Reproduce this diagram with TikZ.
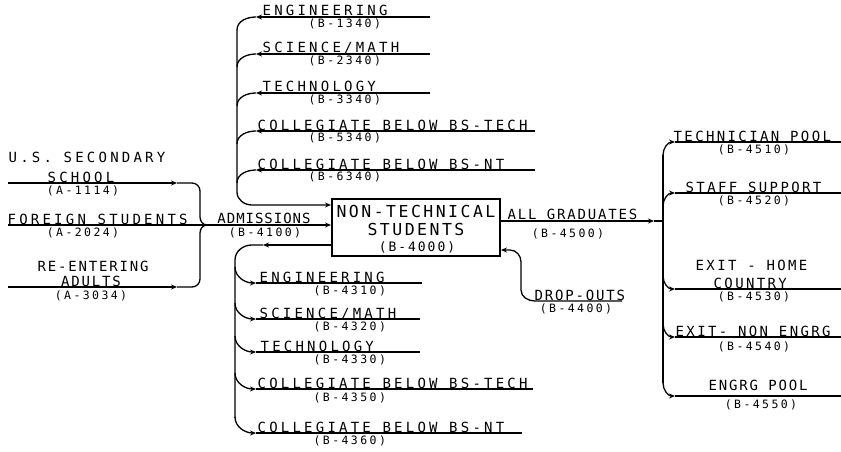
\documentclass[tikz,border=0pt]{standalone}
\usepackage{fontspec}
\newfontfamily\cadA[LetterSpace=23]{DejaVu Sans Mono}
\newfontfamily\cadD[LetterSpace=17]{DejaVu Sans Mono}
\newfontfamily\cadB[LetterSpace=13]{DejaVu Sans Mono}
\newfontfamily\cadC[LetterSpace=7]{DejaVu Sans Mono}
\newfontfamily\cadsub[LetterSpace=21]{DejaVu Sans Mono}
\newfontfamily\cadbig[LetterSpace=15]{DejaVu Sans Mono}
\usetikzlibrary{arrows.meta}
\begin{document}
\begin{tikzpicture}[x=1pt,y=-1pt,line width=1.3pt,
  ah/.tip={Stealth[length=6pt,width=5pt]},
  lbl/.style={font=\cadA\fontsize{14}{15}\selectfont,inner sep=0pt},
  lblD/.style={font=\cadD\fontsize{14}{15}\selectfont,inner sep=0pt},
  lblB/.style={font=\cadB\fontsize{14}{15}\selectfont,inner sep=0pt},
  lblC/.style={font=\cadC\fontsize{14}{15}\selectfont,inner sep=0pt},
  sub/.style={font=\cadsub\fontsize{11.5}{12}\selectfont,inner sep=0pt},
  big/.style={font=\cadbig\fontsize{16.5}{17}\selectfont,inner sep=0pt},
  bigsub/.style={font=\cadbig\fontsize{13}{14}\selectfont,inner sep=0pt}]
\useasboundingbox (0,0) rectangle (841,452);

% central box
\node[draw,minimum width=168pt,minimum height=57pt,inner sep=0pt] (box) at (416,227.5) {};
\node[big] (b1) at (416,211) {NON-TECHNICAL};
\node[big] (b2) at (416,229) {STUDENTS};
\node[bigsub] (b3) at (417,247) {(B-4000)};

% ---------- left inputs ----------
\node[lbl] (l1a) at (87,157) {U.S. SECONDARY};
\node[lbl,anchor=base] (l1b) at (81,182) {SCHOOL};
\node[sub] (l1s) at (83,191) {(A-1114)};
\node[lbl,anchor=base west] (l2) at (7,224) {FOREIGN STUDENTS};
\node[sub] (l2s) at (83,233) {(A-2024)};
\node[lblB] (l3a) at (93,266) {RE-ENTERING};
\node[lblB,anchor=base] (l3b) at (91,286) {ADULTS};
\node[sub] (l3s) at (91,296) {(A-3034)};
\node[lblC,anchor=base] (adm) at (264,223.5) {ADMISSIONS};
\node[sub] (adms) at (265,233) {(B-4100)};

\coordinate (s1) at (8,183); \coordinate (m1) at (177,183);
\coordinate (s2) at (8,225); \coordinate (boxin2) at (331,225);
\coordinate (s3) at (8,287); \coordinate (m3) at (177,287);
\coordinate (jn) at (207,225);
\draw[-ah] (s1) -- (m1);
\draw (m1) -- (192,183) to[out=0,in=90] (200,191) -- (200,217) to[out=270,in=180] (jn);
\draw[-ah] (s3) -- (m3);
\draw (m3) -- (192,287) to[out=0,in=270] (200,279) -- (200,233) to[out=90,in=180] (jn);
\draw[-ah] (s2) -- (boxin2);

% ---------- top group (returns) ----------
\node[lbl,anchor=base west] (t1) at (262,16) {ENGINEERING};
\node[sub,anchor=west] (t1s) at (308,24) {(B-1340)};
\node[lbl,anchor=base west] (t2) at (262,53) {SCIENCE/MATH};
\node[sub,anchor=west] (t2s) at (308,61) {(B-2340)};
\node[lbl,anchor=base west] (t3) at (262,92) {TECHNOLOGY};
\node[sub,anchor=west] (t3s) at (308,100) {(B-3340)};
\node[lbl,anchor=base west] (t4) at (257,130) {COLLEGIATE BELOW BS-TECH};
\node[sub,anchor=west] (t4s) at (308,138) {(B-5340)};
\node[lbl,anchor=base west] (t5) at (257,169) {COLLEGIATE BELOW BS-NT};
\node[sub,anchor=west] (t5s) at (308,177) {(B-6340)};

\coordinate (ta1) at (430,17);  \coordinate (tb1) at (256,17);
\coordinate (ta2) at (430,54);  \coordinate (tb2) at (256,54);
\coordinate (ta3) at (430,93);  \coordinate (tb3) at (256,93);
\coordinate (ta4) at (535,131); \coordinate (tb4) at (256,131);
\coordinate (ta5) at (535,170); \coordinate (tb5) at (256,170);
\coordinate (boxin1) at (331,205);
\foreach \k in {1,...,5}{\draw[-ah] (ta\k) -- (tb\k);}
\draw (tb1) to[out=180,in=90] (237,30);
\draw (tb2) to[out=180,in=90] (237,67);
\draw (tb3) to[out=180,in=90] (237,106);
\draw (tb4) to[out=180,in=90] (237,144);
\draw (tb5) to[out=180,in=90] (237,183);
\draw[-ah] (237,30) -- (237,192) to[out=270,in=180] (252,205) -- (boxin1);

% ---------- bottom group (transfers out) ----------
\node[lbl,anchor=base west] (u1) at (259,282) {ENGINEERING};
\node[sub,anchor=west] (u1s) at (313,291) {(B-4310)};
\node[lbl,anchor=base west] (u2) at (259,318) {SCIENCE/MATH};
\node[sub,anchor=west] (u2s) at (313,327) {(B-4320)};
\node[lbl,anchor=base west] (u3) at (260,351) {TECHNOLOGY};
\node[sub,anchor=west] (u3s) at (313,360) {(B-4330)};
\node[lbl,anchor=base west] (u4) at (257,388) {COLLEGIATE BELOW BS-TECH};
\node[sub,anchor=west] (u4s) at (313,398) {(B-4350)};
\node[lbl,anchor=base west] (u5) at (257,432) {COLLEGIATE BELOW BS-NT};
\node[sub,anchor=west] (u5s) at (313,441) {(B-4360)};

\coordinate (boxout) at (332,245); \coordinate (bm) at (263,245);
\draw[-ah] (boxout) -- (bm);
\draw (bm) -- (252,245) to[out=180,in=90] (235,260) -- (235,418);
\coordinate (ub1) at (256,283); \coordinate (ue1) at (422,283);
\coordinate (ub2) at (256,319); \coordinate (ue2) at (420,319);
\coordinate (ub3) at (256,352); \coordinate (ue3) at (420,352);
\coordinate (ub4) at (256,389); \coordinate (ue4) at (533,389);
\coordinate (ub5) at (256,433); \coordinate (ue5) at (522,433);
\draw[-ah] (235,267) to[out=270,in=180] (ub1);
\draw[-ah] (235,303) to[out=270,in=180] (ub2);
\draw[-ah] (235,336) to[out=270,in=180] (ub3);
\draw[-ah] (235,373) to[out=270,in=180] (ub4);
\draw[-ah] (235,417) to[out=270,in=180] (ub5);
\foreach \k in {1,...,5}{\draw (ub\k) -- (ue\k);}

% ---------- drop-outs ----------
\node[lblB,anchor=base west] (dr) at (534,300) {DROP-OUTS};
\node[sub] (drs) at (576,309) {(B-4400)};
\coordinate (dre) at (622,301); \coordinate (drin) at (501,250);
\draw[-ah] (dre) -- (535,301) to[out=180,in=270] (521,290) -- (521,262) to[out=90,in=0] (510,250) -- (drin);

% ---------- graduates ----------
\node[lblB,anchor=base west] (ag) at (507,219) {ALL GRADUATES};
\node[sub] (ags) at (568,234) {(B-4500)};
\coordinate (gout) at (500,221); \coordinate (gm) at (654,221);
\draw[-ah] (gout) -- (gm);
\draw (gm) -- (663,221);
\draw (663,155) -- (663,383);

\node[lblD,anchor=base west] (r1) at (673,141) {TECHNICIAN POOL};
\node[sub] (r1s) at (754,150) {(B-4510)};
\node[lblD,anchor=base west] (r2) at (685,192) {STAFF SUPPORT};
\node[sub] (r2s) at (754,201) {(B-4520)};
\node[lblD,anchor=west] (r3a) at (695,265) {EXIT - HOME};
\node[lblD,anchor=base west] (r3b) at (713,288) {COUNTRY};
\node[sub] (r3s) at (754,297) {(B-4530)};
\node[lblD,anchor=base west] (r4) at (675,336) {EXIT- NON ENGRG};
\node[sub] (r4s) at (754,347) {(B-4540)};
\node[lblB,anchor=base west] (r5) at (708,390) {ENGRG POOL};
\node[sub] (r5s) at (761,405) {(B-4550)};

\coordinate (rb1) at (675,142); \coordinate (re1) at (841,142);
\coordinate (rb2) at (675,193); \coordinate (re2) at (841,193);
\coordinate (rb3) at (675,289); \coordinate (re3) at (841,289);
\coordinate (rb4) at (675,337); \coordinate (re4) at (841,337);
\coordinate (rb5) at (675,396); \coordinate (re5) at (841,396);
\draw[-ah] (663,155) to[out=90,in=180] (rb1);
\draw[-ah] (663,206) to[out=90,in=180] (rb2);
\draw[-ah] (663,276) to[out=270,in=180] (rb3);
\draw[-ah] (663,324) to[out=270,in=180] (rb4);
\draw[-ah] (663,383) to[out=270,in=180] (rb5);
\foreach \k in {1,...,5}{\draw (rb\k) -- (re\k);}
\end{tikzpicture}
\end{document}
